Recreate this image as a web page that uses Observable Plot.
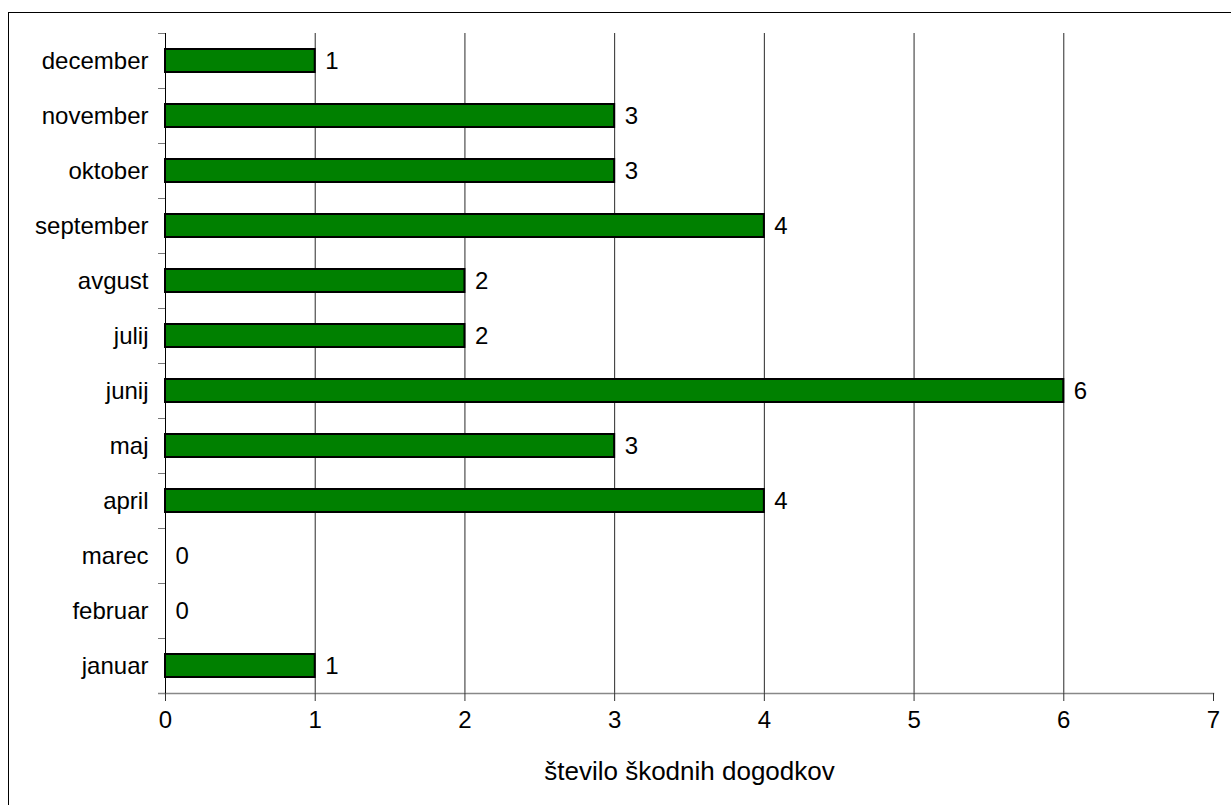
<!DOCTYPE html>
<html>
<head>
<meta charset="utf-8">
<script src="https://cdn.jsdelivr.net/npm/d3@7"></script>
<script src="https://cdn.jsdelivr.net/npm/@observablehq/plot@0.6"></script>
<style>
  html, body { margin: 0; padding: 0; background: #fff; overflow: hidden; }
  #wrap { position: relative; width: 1231px; height: 805px; }
  #border { position: absolute; left: 8px; top: 12px; width: 1400px; height: 1000px; border: 1px solid #000; box-sizing: border-box; pointer-events: none; }
  #chart { position: absolute; left: 0; top: 0; }
</style>
</head>
<body>
<div id="wrap"><div id="chart"></div><div id="border"></div></div>
<script>
const months = ["januar", "februar", "marec", "april", "maj", "junij", "julij", "avgust", "september", "oktober", "november", "december"];
const counts = [1, 0, 0, 4, 3, 6, 2, 2, 4, 3, 3, 1];
const xTicks = [0, 1, 2, 3, 4, 5, 6, 7];
const gridTicks = [1, 2, 3, 4, 5, 6];
const xLabel = "število škodnih dogodkov";

const data = months.map((m, i) => ({month: m, count: counts[i]}));
const font = "Liberation Sans, Arial, Helvetica, sans-serif";

const chart = Plot.plot({
  width: 1231,
  height: 805,
  marginLeft: 165,
  marginRight: 18,
  marginTop: 33,
  marginBottom: 112,
  style: {fontFamily: font, fontSize: "24px", color: "#000", background: "transparent"},
  x: {domain: [0, 7]},
  y: {domain: months.slice().reverse(), padding: 0},
  marks: [
    Plot.ruleX(gridTicks, {stroke: "#2a2a2a", strokeWidth: 1}),
    Plot.barX(data, {y: "month", x: "count", fill: "#008000", stroke: "#000", strokeWidth: 2, insetTop: 16, insetBottom: 16}),
    Plot.text(data, {y: "month", x: "count", text: d => String(d.count), textAnchor: "start", dx: 10, fontSize: 24, fill: "#000"}),
    Plot.frame({anchor: "bottom", stroke: "#888", strokeWidth: 1.5}),
    Plot.axisX({ticks: xTicks, tickSize: 8, tickPadding: 9, tickFormat: d => String(d), fontSize: 24, label: xLabel, labelAnchor: "center", labelArrow: "none", labelOffset: 86, stroke: "#333"}),
    // category labels
    Plot.axisY({tickSize: 0, tickPadding: 17, fontSize: 24, label: null}),
    // category boundary ticks (top edge of each band)
    Plot.axisY({tickSize: 7, text: null, dy: -27.5, label: null, stroke: "#777"}),
    // bottom edge tick of the lowest band
    Plot.axisY({ticks: [months[0]], tickSize: 7, text: null, dy: 27.5, label: null, stroke: "#888", strokeWidth: 1.5}),
    Plot.ruleX([0], {stroke: "#000", strokeWidth: 1})
  ]
});

chart.querySelectorAll("text").forEach(t => {
  if (t.textContent === xLabel) t.setAttribute("font-size", "26");
});
document.getElementById("chart").appendChild(chart);
</script>
</body>
</html>
